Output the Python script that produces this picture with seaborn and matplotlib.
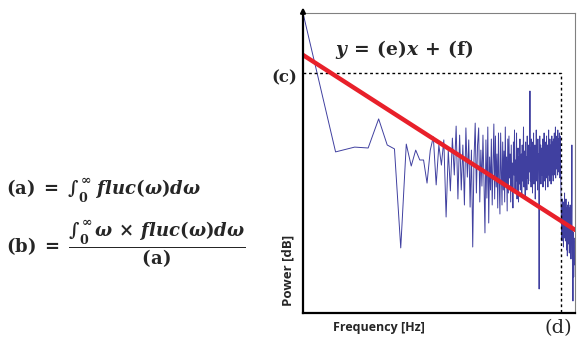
import numpy as np
import pandas as pd
import matplotlib
matplotlib.use("Agg")
import matplotlib.pyplot as plt
import matplotlib.transforms as mtransforms
import seaborn as sns

# spectrum (power per frequency bin)
power_db = [
    100, 53.7, 55.3, 55, 64.7, 56, 54.7, 21.7, 56.3, 49,
    54.3, 51, 51, 43.3, 54.3, 58.7, 42.7, 56, 49.3, 57.7,
    32, 54.3, 40.7, 58.3, 46, 62.3, 38, 59.3, 41, 56,
    36, 61.7, 45.3, 57.7, 35.3, 54.3, 22, 51, 63.3, 40,
    56, 61.7, 37, 54.3, 42.3, 59.3, 44, 26.7, 57.7, 38.3,
    62, 30, 52, 41, 58, 36, 50, 63, 38, 59,
    42, 53, 35, 60, 44, 33, 60, 48, 36, 57,
    41, 54, 37, 62, 43, 52, 34, 58, 40, 59,
    45, 53, 37, 56, 41, 50, 35, 57, 46, 61,
    40, 51, 44, 60, 38, 49, 55, 37, 52, 43,
    58, 41, 50, 53, 39, 56, 44, 51, 62, 42,
    49, 54, 39, 57, 46, 52, 41, 59, 45, 53,
    43, 56, 50, 47, 74, 44, 55, 42, 58, 48,
    52, 40, 57, 46, 60, 43, 53, 49, 56, 38,
    54, 47, 61, 44, 52, 55, 41, 58, 48, 53,
    44, 8, 47, 59, 50, 49, 56, 43, 54, 47,
    55, 46, 52, 58, 42, 50, 54, 48, 60, 44,
    53, 50, 57, 41, 55, 47, 52, 59, 45, 54,
    49, 56, 42, 53, 48, 61, 46, 52, 55, 44,
    58, 49, 53, 47, 56, 43, 54, 50, 59, 46,
    53, 48, 57, 51, 44, 58, 49, 55, 46, 60,
    52, 47, 56, 50, 62, 45, 54, 49, 57, 52,
    48, 59, 51, 55, 46, 61, 52, 49, 58, 53,
    47, 57, 51, 60, 49, 55, 45, 59, 52, 50,
    44, 38, 34, 30, 28, 36, 24, 33, 30, 38,
    26, 35, 29, 34, 22, 37, 31, 27, 35, 30,
    40, 25, 33, 28, 36, 24, 32, 29, 38, 26,
    34, 30, 21, 35, 28, 33, 19, 31, 36, 27,
    34, 25, 30, 37, 23, 32, 28, 35, 20, 31,
    26, 33, 29, 36, 22, 30, 27, 34, 18, 29,
    33, 25, 31, 40, 56, 30, 24, 28, 15, 26,
    10, 4, 22, 27, 18, 24, 12, 20, 25, 16,
]

# linear fit y = (e)x + (f)
fit_x = [1, 326]
fit_y = [86, 27.7]

# cut-off point (c), (d)
cut_freq = 242
cut_power = 80

sns.set_style("white")
plt.rcParams["mathtext.fontset"] = "custom"
plt.rcParams["mathtext.rm"] = "DejaVu Serif:bold"
plt.rcParams["mathtext.it"] = "DejaVu Serif:italic:bold"
plt.rcParams["mathtext.bf"] = "DejaVu Serif:bold"

df = pd.DataFrame({"freq": np.arange(1, len(power_db) + 1), "power": power_db})

fig = plt.figure(figsize=(5.8, 3.42), dpi=100)
ax = fig.add_axes([303 / 580, 29 / 342, 272 / 580, 300 / 342])

sns.lineplot(data=df, x="freq", y="power", estimator=None, color="#000080",
             lw=0.7, alpha=0.75, ax=ax, zorder=2)
ax.plot([1, cut_freq, cut_freq], [cut_power, cut_power, 0], ls=(0, (2, 2)),
        color="black", lw=1, zorder=3)
sns.lineplot(x=fit_x, y=fit_y, color="#e8202a", lw=3.2, ax=ax, zorder=4)

ax.set_xscale("log")
ax.set_xlim(1, 326)
ax.set_ylim(0, 100)
ax.set_xticks([])
ax.set_xticks([], minor=True)
ax.set_yticks([])
ax.set_xlabel("")
ax.set_ylabel("")

for side in ["top", "right"]:
    ax.spines[side].set_color("#808080")
    ax.spines[side].set_linewidth(0.8)
for side in ["left", "bottom"]:
    ax.spines[side].set_color("black")
    ax.spines[side].set_linewidth(1.6)
    ax.spines[side].set_zorder(5)

ax.annotate("", xy=(0, 1.028), xytext=(0, 0.99), xycoords="axes fraction",
            arrowprops=dict(arrowstyle="-|>", color="black", lw=1.6,
                            mutation_scale=7), annotation_clip=False)

blend = mtransforms.blended_transform_factory(ax.transAxes, ax.transData)
ax.text(-0.022, 78.3, "(c)", transform=blend, ha="right", va="center",
        family="DejaVu Serif", fontweight="bold", fontsize=12)
blend2 = mtransforms.blended_transform_factory(ax.transData, ax.transAxes)
ax.text(227, -0.05, "(d)", transform=blend2, ha="center", va="center",
        family="DejaVu Serif", fontsize=14)

ax.text(1.98, 87.7, r"$y\,=\,\mathrm{(e)}x\,+\,\mathrm{(f)}$", ha="left",
        va="center", fontsize=13.5)

ax.text(0.11, -0.047, "Frequency [Hz]", transform=ax.transAxes, ha="left",
        va="center", family="Open Sans", fontweight="bold", fontsize=9)
ax.text(-0.055, 0.143, "Power [dB]", transform=ax.transAxes, ha="center",
        va="center", rotation=90, family="Open Sans", fontweight="bold",
        fontsize=9.5)

fig.text(0.01, 1 - 190 / 342,
         r"$\mathrm{(a)}\;=\;\int_0^\infty\ fluc(\omega)d\omega$",
         ha="left", va="center", fontsize=13)
fig.text(0.01, 1 - 244 / 342,
         r"$\mathrm{(b)}\;=\;\dfrac{\int_0^\infty\,\omega\,\times\,fluc(\omega)d\omega}{\mathrm{(a)}}$",
         ha="left", va="center", fontsize=13)

fig.savefig("out.png", dpi=100)
